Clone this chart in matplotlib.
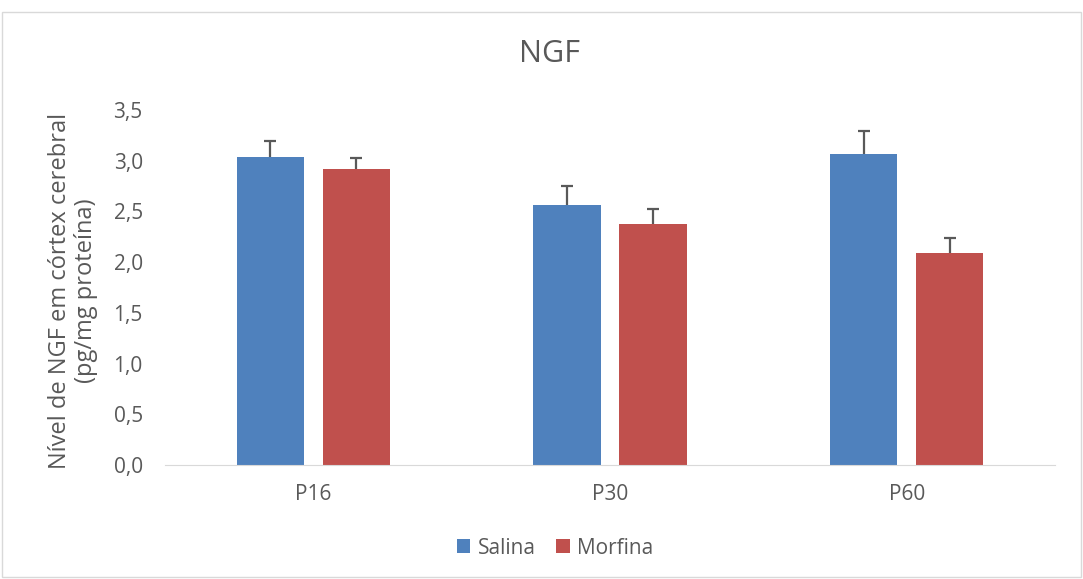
import numpy as np
import matplotlib.pyplot as plt
from matplotlib.patches import Rectangle

categories = ['P16', 'P30', 'P60']
salina = [3.04, 2.56, 3.07]
salina_err = [0.15, 0.19, 0.22]
morfina = [2.92, 2.38, 2.09]
morfina_err = [0.11, 0.14, 0.15]
yticks = [0.0, 0.5, 1.0, 1.5, 2.0, 2.5, 3.0, 3.5]

plt.rcParams['font.family'] = ['Open Sans', 'DejaVu Sans']
text_color = '#595959'

fig = plt.figure(figsize=(10.83, 5.79), dpi=100)
ax = fig.add_axes([165 / 1083, 1 - 465 / 579, 890 / 1083, 355 / 579])

x = np.arange(len(categories))
w = 0.227
off = 0.145
err_kw = dict(ecolor='#595959', elinewidth=1.6, capsize=4.5, capthick=1.6)
b1 = ax.bar(x - off, salina, w, color='#4F81BD', label='Salina',
            yerr=[np.zeros(3), salina_err], error_kw=err_kw)
b2 = ax.bar(x + off, morfina, w, color='#C0504D', label='Morfina',
            yerr=[np.zeros(3), morfina_err], error_kw=err_kw)
# only the upper cap, like Excel's "plus" error bars
for b in (b1, b2):
    b.errorbar.lines[1][0].set_visible(False)

ax.set_xlim(-0.5, 2.5)
ax.set_ylim(0, 3.5)
ax.set_xticks(x)
ax.set_xticklabels(categories)
ax.set_yticks(yticks)
ax.set_yticklabels([f'{v:.1f}'.replace('.', ',') for v in yticks])
ax.tick_params(axis='both', length=0, labelsize=15, colors=text_color)
ax.tick_params(axis='y', pad=16)
ax.tick_params(axis='x', pad=14)
for s in ['top', 'right', 'left']:
    ax.spines[s].set_visible(False)
ax.spines['bottom'].set_color('#D9D9D9')

fig.text(73 / 1083, 1 - 291 / 579, 'Nível de NGF em córtex cerebral\n(pg/mg proteína)',
         rotation=90, fontsize=17, color=text_color, ha='center', va='center',
         linespacing=1.15, multialignment='center')
fig.text(550 / 1083, 1 - 54 / 579, 'NGF', fontsize=22, color=text_color,
         ha='center', va='center')

fig.legend(loc='center', bbox_to_anchor=(555 / 1083, 1 - 548 / 579), ncol=2,
           frameon=False, fontsize=15, labelcolor=text_color,
           handlelength=0.65, handleheight=0.65, handletextpad=0.35, columnspacing=1.0)

fig.patches.append(Rectangle((2 / 1083, 2 / 579), 1 - 4 / 1083, 1 - 14 / 579,
                             transform=fig.transFigure, fill=False,
                             edgecolor='#D9D9D9', linewidth=1))

fig.savefig('out.png', dpi=100)
